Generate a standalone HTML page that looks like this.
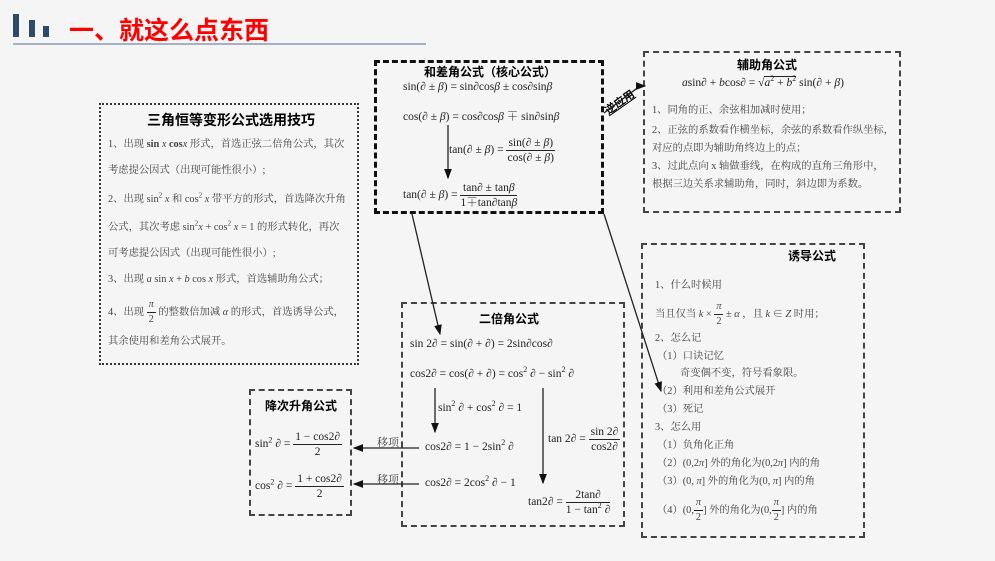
<!DOCTYPE html>
<html><head><meta charset="utf-8"><style>
body{margin:0;width:995px;height:561px;background:#f5f5f5;position:relative;overflow:hidden;font-family:"Liberation Serif","Noto Serif CJK SC",serif;color:#222}
.t{position:absolute;white-space:nowrap;font-size:11.5px}
.c{font-family:"Liberation Serif","Noto Serif CJK SC",serif;font-size:10.3px;color:#444}
.h{font-family:"Liberation Sans","Noto Sans CJK SC",sans-serif;font-weight:bold;font-size:12px;color:#000}
.box{position:absolute;box-sizing:border-box}
.fr{display:inline-flex;flex-direction:column;vertical-align:middle;text-align:center;line-height:14px}
.fr>span:first-child{border-bottom:1px solid #222;padding:0 2px}
i{font-style:italic}
sup{line-height:0;font-size:70%}
</style></head><body>
<div class="box" style="left:13px;top:14px;width:6px;height:23px;background:#2e4a6b"></div>
<div class="box" style="left:29px;top:20px;width:6px;height:17px;background:#2e4a6b"></div>
<div class="box" style="left:43px;top:26px;width:6px;height:11px;background:#2e4a6b"></div>
<div class="t" style="left:69px;top:11px;font-family:'Liberation Sans','Noto Sans CJK SC',sans-serif;font-weight:bold;font-size:25px;color:#f00">一、就这么点东西</div>
<div class="box" style="left:13px;top:43px;width:413px;height:2px;background:#a3b2c5"></div>

<!-- left box -->
<div class="box" style="left:99px;top:103px;width:260px;height:262px;border:2px dotted #333"></div>
<div class="t h" style="left:147px;top:110px;font-size:14px">三角恒等变形公式选用技巧</div>
<div class="t c" style="left:108px;top:135px">1、出现 <b>sin</b> <i>x</i> <b>cos</b><i>x</i> 形式，首选正弦二倍角公式，其次</div>
<div class="t c" style="left:108px;top:161px">考虑提公因式（出现可能性很小）;</div>
<div class="t c" style="left:108px;top:190px">2、出现 sin<sup>2</sup> <i>x</i> 和 cos<sup>2</sup> <i>x</i> 带平方的形式，首选降次升角</div>
<div class="t c" style="left:108px;top:218px">公式，其次考虑 sin<sup>2</sup><i>x</i> + cos<sup>2</sup> <i>x</i> = 1 的形式转化，再次</div>
<div class="t c" style="left:108px;top:244px">可考虑提公因式（出现可能性很小）;</div>
<div class="t c" style="left:108px;top:270px">3、出现 <i>a</i> sin <i>x</i> + <i>b</i> cos <i>x</i> 形式，首选辅助角公式；</div>
<div class="t c" style="left:108px;top:298px">4、出现 <span class="fr"><span><i>π</i></span><span>2</span></span> 的整数倍加减 <i>α</i> 的形式，首选诱导公式，</div>
<div class="t c" style="left:108px;top:332px">其余使用和差角公式展开。</div>

<!-- center box -->
<div class="box" style="left:374px;top:60px;width:230px;height:154px;border:3px dashed #111"></div>
<div class="t h" style="left:424px;top:63px">和差角公式（核心公式）</div>
<div class="t" style="left:403px;top:81px">sin(<i>∂</i> ± <i>β</i>) = sin<i>∂</i>cos<i>β</i> ± cos<i>∂</i>sin<i>β</i></div>
<div class="t" style="left:403px;top:108px">cos(<i>∂</i> ± <i>β</i>) = cos<i>∂</i>cos<i>β</i> ∓ sin<i>∂</i>sin<i>β</i></div>
<div class="t" style="left:449px;top:136px">tan(<i>∂</i> ± <i>β</i>) = <span class="fr"><span>sin(<i>∂</i> ± <i>β</i>)</span><span>cos(<i>∂</i> ± <i>β</i>)</span></span></div>
<div class="t" style="left:403px;top:181px">tan(<i>∂</i> ± <i>β</i>) = <span class="fr"><span>tan<i>∂</i> ± tan<i>β</i></span><span>1∓tan<i>∂</i>tan<i>β</i></span></span></div>

<!-- aux box -->
<div class="box" style="left:643px;top:51px;width:258px;height:162px;border:2px dashed #444"></div>
<div class="t h" style="left:737px;top:56px">辅助角公式</div>
<div class="t" style="left:682px;top:77px"><i>a</i>sin<i>∂</i> + <i>b</i>cos<i>∂</i> = √<span style="border-top:1px solid #222"><i>a</i><sup>2</sup> + <i>b</i><sup>2</sup></span> sin(<i>∂</i> + <i>β</i>)</div>
<div class="t c" style="left:652px;top:101px">1、同角的正、余弦相加减时使用；</div>
<div class="t c" style="left:652px;top:121px">2、正弦的系数看作横坐标，余弦的系数看作纵坐标，</div>
<div class="t c" style="left:652px;top:139px">对应的点即为辅助角终边上的点；</div>
<div class="t c" style="left:652px;top:157px">3、过此点向 x 轴做垂线，在构成的直角三角形中，</div>
<div class="t c" style="left:652px;top:175px">根据三边关系求辅助角，同时，斜边即为系数。</div>

<!-- induction box -->
<div class="box" style="left:641px;top:243px;width:224px;height:295px;border:2px dashed #444"></div>
<div class="t h" style="left:788px;top:247px">诱导公式</div>
<div class="t c" style="left:655px;top:276px">1、什么时候用</div>
<div class="t c" style="left:655px;top:300px">当且仅当 <i>k</i> × <span class="fr"><span><i>π</i></span><span>2</span></span> ± <i>α</i> ，且 <i>k</i> ∈ <i>Z</i> 时用；</div>
<div class="t c" style="left:655px;top:329px">2、怎么记</div>
<div class="t c" style="left:657px;top:347px">（1）口诀记忆</div>
<div class="t c" style="left:680px;top:364px">奇变偶不变，符号看象限。</div>
<div class="t c" style="left:657px;top:382px">（2）利用和差角公式展开</div>
<div class="t c" style="left:657px;top:400px">（3）死记</div>
<div class="t c" style="left:655px;top:418px">3、怎么用</div>
<div class="t c" style="left:657px;top:436px">（1）负角化正角</div>
<div class="t c" style="left:657px;top:454px">（2）(0,2<i>π</i>] 外的角化为(0,2<i>π</i>] 内的角</div>
<div class="t c" style="left:657px;top:472px">（3）(0, <i>π</i>] 外的角化为(0, <i>π</i>] 内的角</div>
<div class="t c" style="left:657px;top:496px">（4）(0,<span class="fr"><span><i>π</i></span><span>2</span></span>] 外的角化为(0,<span class="fr"><span><i>π</i></span><span>2</span></span>] 内的角</div>

<!-- double angle -->
<div class="box" style="left:401px;top:302px;width:224px;height:225px;border:2px dashed #444"></div>
<div class="t h" style="left:479px;top:310px">二倍角公式</div>
<div class="t" style="left:410px;top:338px">sin 2<i>∂</i> = sin(<i>∂</i> + <i>∂</i>) = 2sin<i>∂</i>cos<i>∂</i></div>
<div class="t" style="left:410px;top:368px">cos2<i>∂</i> = cos(<i>∂</i> + <i>∂</i>) = cos<sup>2</sup> <i>∂</i> − sin<sup>2</sup> <i>∂</i></div>
<div class="t" style="left:438px;top:402px">sin<sup>2</sup> <i>∂</i> + cos<sup>2</sup> <i>∂</i> = 1</div>
<div class="t" style="left:425px;top:441px">cos2<i>∂</i> = 1 − 2sin<sup>2</sup> <i>∂</i></div>
<div class="t" style="left:425px;top:477px">cos2<i>∂</i> = 2cos<sup>2</sup> <i>∂</i> − 1</div>
<div class="t" style="left:548px;top:425px">tan 2<i>∂</i> = <span class="fr"><span>sin 2<i>∂</i></span><span>cos2<i>∂</i></span></span></div>
<div class="t" style="left:528px;top:488px">tan2<i>∂</i> = <span class="fr"><span>2tan<i>∂</i></span><span>1 − tan<sup>2</sup> <i>∂</i></span></span></div>
<div class="t c" style="left:377px;top:434px;font-size:11px">移项</div>
<div class="t c" style="left:377px;top:471px;font-size:11px">移项</div>

<!-- reduce -->
<div class="box" style="left:249px;top:389px;width:103px;height:127px;border:2px dashed #444"></div>
<div class="t h" style="left:265px;top:397px">降次升角公式</div>
<div class="t" style="left:255px;top:430px">sin<sup>2</sup> <i>∂</i> = <span class="fr"><span>1 − cos2<i>∂</i></span><span>2</span></span></div>
<div class="t" style="left:255px;top:472px">cos<sup>2</sup> <i>∂</i> = <span class="fr"><span>1 + cos2<i>∂</i></span><span>2</span></span></div>

<div class="t h" style="left:603px;top:94px;transform:rotate(-35deg);font-size:11px;text-decoration:underline">逆应用</div>

<svg width="995" height="561" style="position:absolute;left:0;top:0">
<defs><marker id="a" markerWidth="8" markerHeight="8" refX="7" refY="4" orient="auto"><path d="M0,1 L8,4 L0,7z" fill="#111"/></marker></defs>
<g stroke="#222" stroke-width="1.3" fill="none" marker-end="url(#a)">
<line x1="448" y1="125" x2="448" y2="178"/>
<line x1="412" y1="214" x2="440" y2="334"/>
<line x1="604" y1="214" x2="661" y2="391"/>
<line x1="435" y1="388" x2="435" y2="432"/>
<line x1="543" y1="388" x2="543" y2="483"/>
<line x1="419" y1="448" x2="354" y2="448"/>
<line x1="419" y1="484" x2="354" y2="484"/>
<polyline points="604,113 640,86 645,86"/>
</g>
</svg>
</body></html>
